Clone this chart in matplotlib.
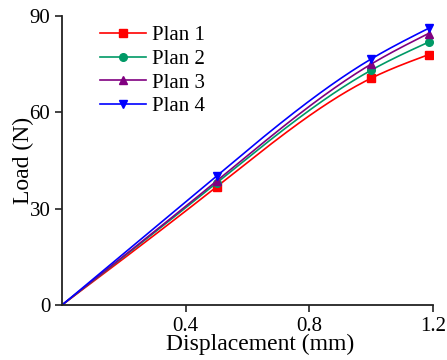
import matplotlib
matplotlib.use("Agg")
import matplotlib.pyplot as plt
import numpy as np

plt.rcParams['font.family'] = ['Liberation Serif', 'DejaVu Serif']

disp = [0.0, 0.5, 1.0, 1.185]
plan1 = [0.0, 36.8, 70.6, 77.9]
plan2 = [0.0, 38.0, 73.1, 81.8]
plan3 = [0.0, 38.6, 75.0, 84.5]
plan4 = [0.0, 40.2, 76.6, 86.1]
labels = ['Plan 1', 'Plan 2', 'Plan 3', 'Plan 4']
colors = ['#ff0000', '#009966', '#800080', '#0000ff']
markers = ['s', 'o', '^', 'v']


def natural_spline(x, y, xs):
    # natural cubic spline through the measured points
    x = np.asarray(x, float)
    y = np.asarray(y, float)
    n = len(x)
    h = np.diff(x)
    A = np.zeros((n, n))
    b = np.zeros(n)
    A[0, 0] = A[-1, -1] = 1
    for i in range(1, n - 1):
        A[i, i - 1] = h[i - 1]
        A[i, i] = 2 * (h[i - 1] + h[i])
        A[i, i + 1] = h[i]
        b[i] = 6 * ((y[i + 1] - y[i]) / h[i] - (y[i] - y[i - 1]) / h[i - 1])
    M = np.linalg.solve(A, b)
    idx = np.clip(np.searchsorted(x, xs) - 1, 0, n - 2)
    x0, x1 = x[idx], x[idx + 1]
    hh = x1 - x0
    t0, t1 = x1 - xs, xs - x0
    return (M[idx] * t0**3 / (6 * hh) + M[idx + 1] * t1**3 / (6 * hh)
            + (y[idx] / hh - M[idx] * hh / 6) * t0
            + (y[idx + 1] / hh - M[idx + 1] * hh / 6) * t1)


fig = plt.figure(figsize=(4.47, 3.6), dpi=100)
ax = fig.add_axes([0.139, 0.153, 0.830, 0.803])

xs = np.linspace(disp[0], disp[-1], 300)
for ys, lab, c, m in zip([plan1, plan2, plan3, plan4], labels, colors, markers):
    ax.plot(xs, natural_spline(disp, ys, xs), color=c, lw=1.2)
    ax.plot(disp[1:], ys[1:], linestyle='none', marker=m, color=c, ms=5.5)
    ax.plot([], [], color=c, lw=1.2, marker=m, ms=5.5, label=lab)

ax.set_xlim(0, 1.2)
ax.set_ylim(0, 90)
ax.set_xticks([0.4, 0.8, 1.2])
ax.set_yticks([0, 30, 60, 90])
ax.spines['top'].set_visible(False)
ax.spines['right'].set_visible(False)
for s in ['left', 'bottom']:
    ax.spines[s].set_linewidth(1.3)
    ax.spines[s].set_color('#222222')
ax.tick_params(direction='out', length=5, width=1.2, labelsize=15, color='#222222')
ax.set_xlabel('Displacement (mm)', fontsize=17)
ax.xaxis.set_label_coords(0.534, -0.1)
ax.set_ylabel('Load (N)', fontsize=17, labelpad=-3)

ax.legend(loc='upper left', bbox_to_anchor=(0.08, 0.995), frameon=False,
          fontsize=15, handlelength=2.2, handletextpad=0.3, labelspacing=0.2,
          borderaxespad=0)

plt.savefig('out.png', dpi=100)
plt.close(fig)
